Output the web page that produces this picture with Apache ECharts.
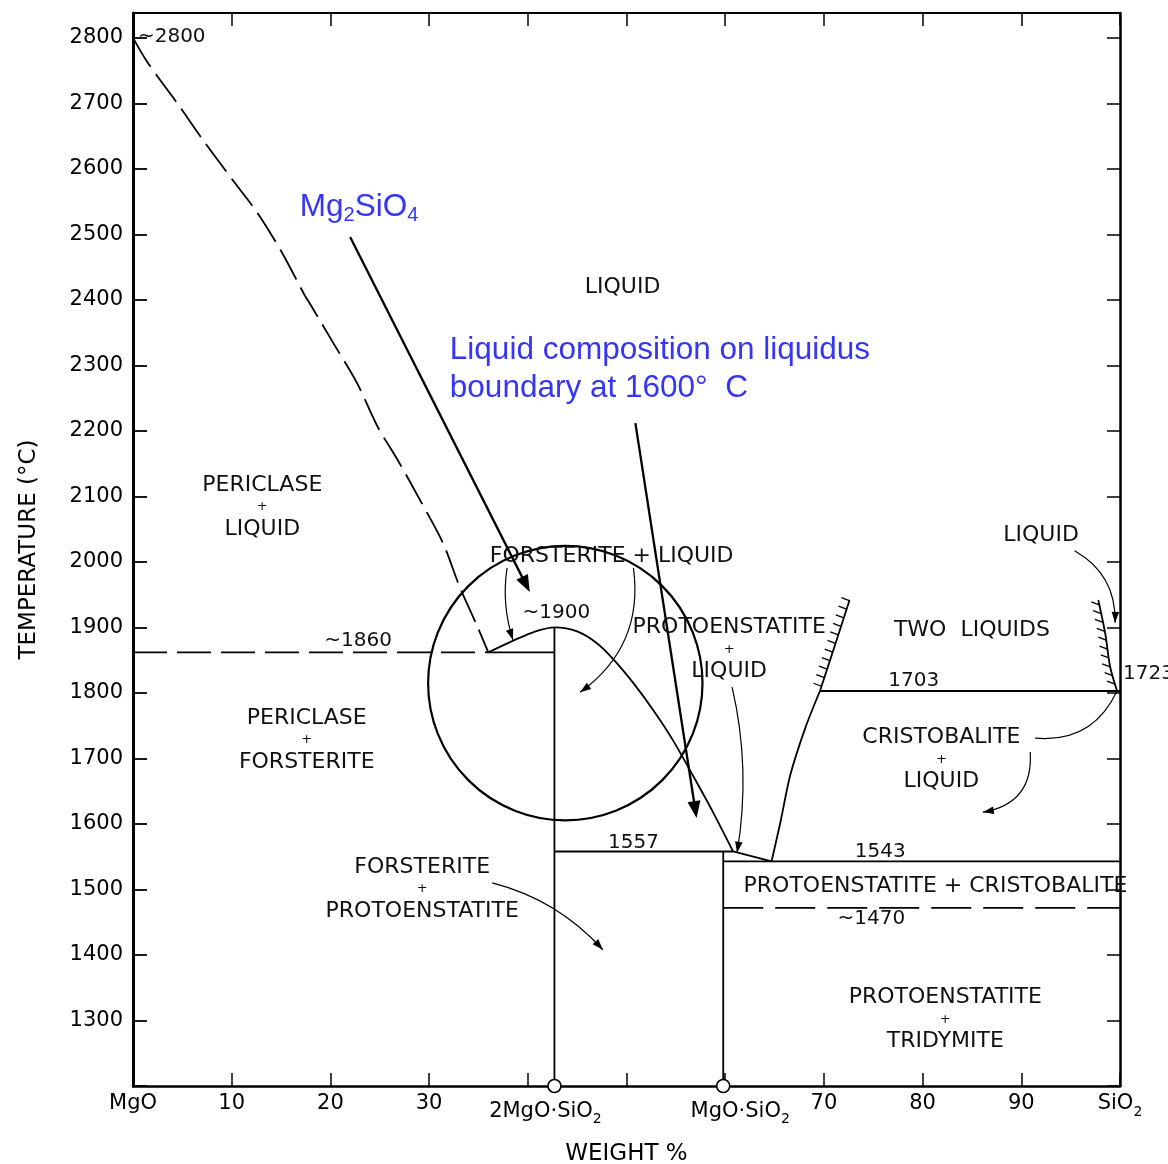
<!DOCTYPE html>
<html><head><meta charset="utf-8">
<script src="https://cdn.jsdelivr.net/npm/echarts@6/dist/echarts.min.js"></script>
<style>html,body{margin:0;padding:0;background:#fff}#c{width:1168px;height:1164px}</style>
</head><body><div id="c"></div>
<script>
// ---------------- data (weight % SiO2, temperature °C) ----------------
const xTickLabels = {0:'MgO',10:'10',20:'20',30:'30',70:'70',80:'80',90:'90',100:'SiO{s|2}'};
const compoundNames = ['2MgO·SiO{s|2}', 'MgO·SiO{s|2}'];
const compoundWt = [42.7, 59.8];

const liquidusPericlase = [[0,2800],[1.5,2762],[4.5,2700],[7.1,2644],[10.1,2583],[12.6,2533],[15.1,2472],[17.4,2407],[17.9,2395],[20.3,2334],[22.7,2273],[24.8,2206],[26.8,2156],[29.1,2094],[31.4,2029],[33.1,1962],[34.9,1901],[36.0,1862]];
const liquidusForsterite = [[36.0,1862],[38.7,1881],[40.6,1893],[42.7,1900],[45.0,1894],[47.0,1876],[48.7,1851],[50.7,1815],[52.7,1774],[54.7,1728],[56.8,1672],[58.8,1617],[60.8,1558]];
const liquidusEnstatite = [[60.8,1558],[64.7,1543]];
const liquidusSilica = [[64.7,1543],[65.6,1603],[66.6,1675],[68.1,1746],[69.6,1803]];
const immiscLeft = [[69.6,1803],[71.1,1872],[72.6,1942]];
const immiscRight = [[97.8,1942],[98.5,1891],[99.0,1840],[99.7,1803]];

const solidTielines = [
  [[36.0,1862],[42.7,1862]],
  [[42.7,1900],[42.7,1200]],
  [[42.7,1558],[60.8,1558]],
  [[59.8,1558],[59.8,1200]],
  [[59.8,1543],[100,1543]],
  [[69.6,1803],[100,1803]]
];
const dashedTielines = [
  [[0,1862],[36.0,1862]],
  [[59.8,1472],[100,1472]]
];

// highlighted region (circle): centre wt%, centre °C, radius in wt%
const focusCircle = [[43.8, 1815, 13.9]];

// annotation arrows: [fromWt, fromT, toWt, toT]
const pointerArrows = [[22.0,2496,40.2,1954],[50.9,2212,57.1,1609]];
// curved leader arrows: [fromWt, fromT, toWt, toT, curveness, head]
const leaderArrows = [
  [37.9,1991,38.5,1881,-0.12,1],
  [50.7,1991,45.3,1801,0.3,1],
  [60.7,1809,61.2,1556,0.1,1],
  [95.4,2017,99.5,1907,0.3,1],
  [91.4,1731,99.7,1803,-0.35,0],
  [90.9,1710,86.1,1618,0.45,1],
  [36.4,1510,47.6,1408,0.15,1]
];

const regionLabels = [
  {text:'~2800', at:[0.5,2801], align:'left'},
  {text:'LIQUID', at:[49.6,2420]},
  {text:'PERICLASE\n{p|+}\nLIQUID', at:[13.1,2084]},
  {text:'FORSTERITE + LIQUID', at:[48.5,2008]},
  {text:'~1900', at:[42.9,1922]},
  {text:'~1860', at:[22.8,1879]},
  {text:'PROTOENSTATITE\n{p|+}\nLIQUID', at:[60.4,1866]},
  {text:'TWO  LIQUIDS', at:[85.0,1896]},
  {text:'LIQUID', at:[92.0,2041]},
  {text:'1723', at:[100.3,1830], align:'left'},
  {text:'1703', at:[79.1,1818]},
  {text:'PERICLASE\n{p|+}\nFORSTERITE', at:[17.6,1728]},
  {text:'CRISTOBALITE\n{p|+}\nLIQUID', at:[81.9,1698]},
  {text:'1557', at:[50.7,1572]},
  {text:'1543', at:[75.7,1557]},
  {text:'FORSTERITE\n{p|+}\nPROTOENSTATITE', at:[29.3,1501]},
  {text:'PROTOENSTATITE + CRISTOBALITE', at:[81.3,1505]},
  {text:'~1470', at:[74.8,1455]},
  {text:'PROTOENSTATITE\n{p|+}\nTRIDYMITE', at:[82.3,1302]}
];
const blueNotes = [
  {text:'Mg{s|2}SiO{s|4}', at:[16.9,2542]},
  {text:'Liquid composition on liquidus\nboundary at 1600°  C', at:[32.1,2294]}
];

// ---------------- chart ----------------
const FONT = 'DejaVu Sans';
const BFONT = 'Liberation Sans';
const BLUE = '#3535f5';
const chart = echarts.init(document.getElementById('c'), null, {renderer:'canvas'});

function lineSeries(data, dash, smooth) {
  return {type:'line', data, showSymbol:false, symbol:'none', silent:true, clip:false, smooth: smooth || false,
    lineStyle:{color:'#000', width:1.8, type: dash || 'solid'}, z:3};
}

function hachureSeries(bounds) {
  return {type:'custom', silent:true, clip:false, z:3,
    data: bounds.map((b,i)=>[i, 1500]),
    renderItem(params, api) {
      const pts = bounds[params.dataIndex].map(p=>api.coord(p));
      const children = [{type:'polyline', shape:{points:pts, smooth:0.3}, style:{stroke:'#000', lineWidth:1.8, fill:null}}];
      let carry = 5;
      for (let i=0;i<pts.length-1;i++){
        const a=pts[i], b=pts[i+1];
        const L=Math.hypot(b[0]-a[0], b[1]-a[1]);
        let s=carry;
        while (s < L) {
          const t=s/L, px=a[0]+(b[0]-a[0])*t, py=a[1]+(b[1]-a[1])*t;
          children.push({type:'line', shape:{x1:px,y1:py,x2:px-8,y2:py-3}, style:{stroke:'#000', lineWidth:1.3}});
          s += 9;
        }
        carry = s - L;
      }
      return {type:'group', children};
    }};
}

function head(tip, from, len, half) {
  const dx=tip[0]-from[0], dy=tip[1]-from[1], L=Math.hypot(dx,dy)||1, ux=dx/L, uy=dy/L;
  const bx=tip[0]-ux*len, by=tip[1]-uy*len;
  return {type:'polygon', shape:{points:[tip,[bx-uy*half,by+ux*half],[bx+uy*half,by-ux*half]]}, style:{fill:'#000'}};
}

const option = {
  animation:false,
  backgroundColor:'#fff',
  grid:{left:133, right:48, top:13, bottom:78, containLabel:false, outerBoundsMode:'none'},
  xAxis:[
    {type:'value', min:0, max:100, interval:10, position:'bottom',
     axisLine:{onZero:false, lineStyle:{color:'#000', width:2.5}},
     axisTick:{inside:true, length:13, lineStyle:{color:'#000', width:1.5}},
     splitLine:{show:false},
     axisLabel:{formatter:v=>xTickLabels[v] ?? '', color:'#000', fontFamily:FONT, fontSize:21, margin:3, lineHeight:30,
       rich:{s:{fontFamily:FONT, fontSize:14, lineHeight:14, verticalAlign:'bottom', color:'#000'}}},
     name:'WEIGHT %', nameLocation:'middle', nameGap:57,
     nameTextStyle:{color:'#000', fontFamily:FONT, fontSize:23}},
    {type:'value', min:0, max:100, interval:10, position:'top',
     axisLine:{onZero:false, lineStyle:{color:'#000', width:2}},
     axisTick:{inside:true, length:13, lineStyle:{color:'#000', width:1.5}},
     axisLabel:{show:false}, splitLine:{show:false}}
  ],
  yAxis:[
    {type:'value', min:1200, max:2838, interval:100, position:'left',
     axisLine:{onZero:false, lineStyle:{color:'#000', width:3}},
     axisTick:{inside:true, length:14, lineStyle:{color:'#000', width:1.8}},
     splitLine:{show:false},
     axisLabel:{formatter:v=>(v>=1300 && v<=2800)? String(v):'', color:'#000', fontFamily:FONT, fontSize:21, margin:10},
     name:'TEMPERATURE (°C)', nameLocation:'middle', nameRotate:90, nameGap:92,
     nameTextStyle:{color:'#000', fontFamily:FONT, fontSize:23}},
    {type:'value', min:1200, max:2838, interval:100, position:'right',
     axisLine:{onZero:false, lineStyle:{color:'#000', width:2.5}},
     axisTick:{inside:true, length:13, lineStyle:{color:'#000', width:1.5}},
     axisLabel:{show:false}, splitLine:{show:false}}
  ],
  series:[
    lineSeries(liquidusPericlase, [34,9], 0.3),
    lineSeries(liquidusForsterite, null, 0.3),
    lineSeries(liquidusEnstatite),
    lineSeries(liquidusSilica, null, 0.3),
    ...solidTielines.map(d=>lineSeries(d)),
    lineSeries(dashedTielines[0], [34,10]),
    lineSeries(dashedTielines[1], [40,12]),
    hachureSeries([immiscLeft, immiscRight]),
    {type:'custom', silent:true, clip:false, z:4, data:focusCircle,
     renderItem(params, api){
       const c=api.coord([api.value(0), api.value(1)]);
       const r=api.size([api.value(2),0])[0];
       return {type:'circle', shape:{cx:c[0], cy:c[1], r}, style:{fill:null, stroke:'#000', lineWidth:2.2}};
     }},
    {type:'custom', silent:true, clip:false, z:6, data:pointerArrows, encode:{x:[0,2], y:[1,3]},
     renderItem(params, api){
       const a=api.coord([api.value(0),api.value(1)]), b=api.coord([api.value(2),api.value(3)]);
       const dx=b[0]-a[0], dy=b[1]-a[1], L=Math.hypot(dx,dy);
       const e=[b[0]-dx/L*12, b[1]-dy/L*12];
       return {type:'group', children:[
         {type:'line', shape:{x1:a[0],y1:a[1],x2:e[0],y2:e[1]}, style:{stroke:'#000', lineWidth:2.3}},
         head(b, a, 17, 6.5)]};
     }},
    {type:'custom', silent:true, clip:false, z:5, data:leaderArrows, encode:{x:[0,2], y:[1,3]},
     renderItem(params, api){
       const p1=api.coord([api.value(0),api.value(1)]), p2=api.coord([api.value(2),api.value(3)]);
       const c=api.value(4);
       const cp=[(p1[0]+p2[0])/2-(p1[1]-p2[1])*c, (p1[1]+p2[1])/2-(p2[0]-p1[0])*c];
       const kids=[{type:'bezierCurve', shape:{x1:p1[0],y1:p1[1],x2:p2[0],y2:p2[1],cpx1:cp[0],cpy1:cp[1]}, style:{stroke:'#000', lineWidth:1.2, fill:null}}];
       if (api.value(5)) kids.push(head(p2, cp, 11, 3.8));
       return {type:'group', children:kids};
     }},
    {type:'custom', silent:true, clip:false, z:7, data:regionLabels.map(l=>l.at),
     renderItem(params, api){
       const l=regionLabels[params.dataIndex];
       const p=api.coord([api.value(0),api.value(1)]);
       const small = /^~?\d/.test(l.text);
       return {type:'text', x:p[0], y:p[1], style:{text:l.text, fill:'#111', fontFamily:FONT,
         fontSize: small?20:22, lineHeight:22, align:l.align||'center', verticalAlign:'middle',
         rich:{p:{fontSize:13, lineHeight:22, fill:'#111', fontFamily:FONT}}}};
     }},
    {type:'custom', silent:true, clip:false, z:7, data:blueNotes.map(l=>l.at),
     renderItem(params, api){
       const l=blueNotes[params.dataIndex];
       const p=api.coord([api.value(0),api.value(1)]);
       return {type:'text', x:p[0], y:p[1], style:{text:l.text, fill:BLUE, fontFamily:BFONT,
         fontSize:31.5, lineHeight:38, align:'left', verticalAlign:'middle',
         rich:{s:{fontSize:20, lineHeight:20, verticalAlign:'bottom', fill:BLUE, fontFamily:BFONT}}}};
     }},
    {type:'scatter', silent:true, clip:false, z:10, symbol:'circle', symbolSize:13,
     itemStyle:{color:'#fff', borderColor:'#000', borderWidth:1.6, opacity:1},
     data: compoundWt.map((w,i)=>({value:[w,1200], label:{offset: i===0?[-9,0]:[17,0]}})),
     label:{show:true, position:'bottom', distance:3, formatter:p=>compoundNames[p.dataIndex],
       color:'#000', opacity:1, fontFamily:FONT, fontSize:21, lineHeight:30,
       rich:{s:{fontFamily:FONT, fontSize:14, lineHeight:14, verticalAlign:'bottom', color:'#000'}}}}
  ]
};
chart.setOption(option);
</script></body></html>
